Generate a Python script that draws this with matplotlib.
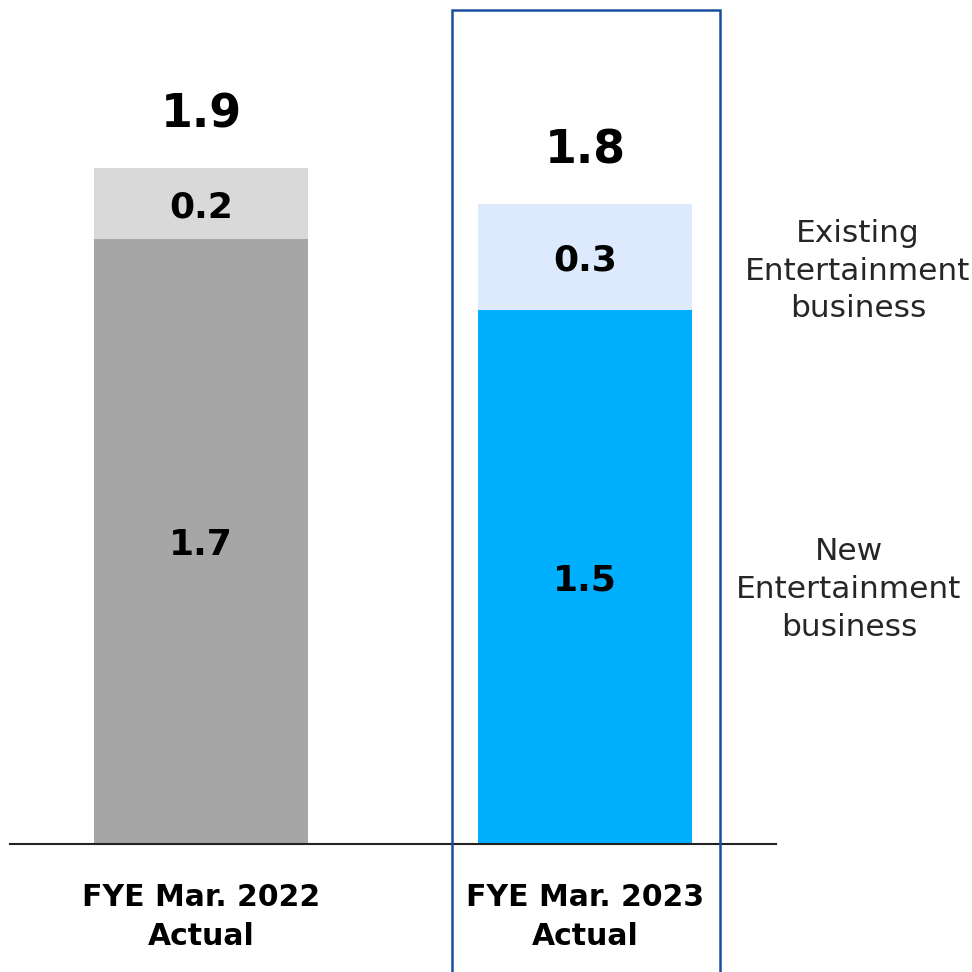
import matplotlib.pyplot as plt
from matplotlib.patches import Rectangle

# Values (trillion yen style units as shown on the chart)
categories = ["FYE Mar. 2022\nActual", "FYE Mar. 2023\nActual"]
new_ent = [1.7, 1.5]
existing_ent = [0.2, 0.3]
totals = [1.9, 1.8]
series_names = ["New\nEntertainment\nbusiness", "Existing\nEntertainment\nbusiness"]

bottom_colors = ["#A6A6A6", "#00B0FF"]
top_colors = ["#D9D9D9", "#DDE9FC"]
frame_color = "#1B4F9C"

fig = plt.figure(figsize=(9.72, 9.72), dpi=100)
ax = fig.add_axes([0, 0, 1, 1])
ax.set_xlim(-0.5234, 2.0078)
ax.set_ylim(-0.3598, 2.372)
ax.axis("off")

x = range(len(categories))
width = 0.557
ax.bar(x, new_ent, width=width, color=bottom_colors, zorder=2)
ax.bar(x, existing_ent, width=width, bottom=new_ent, color=top_colors, zorder=2)

font = "DejaVu Sans"
for i in x:
    ax.text(i, new_ent[i] / 2 - 0.01, f"{new_ent[i]:.1f}", ha="center", va="center",
            fontsize=26, fontweight="bold", family=font, zorder=3)
    ax.text(i, new_ent[i] + existing_ent[i] / 2 - 0.01, f"{existing_ent[i]:.1f}",
            ha="center", va="center", fontsize=26, fontweight="bold",
            family=font, zorder=3)
    ax.text(i, totals[i] + 0.148, f"{totals[i]:.1f}", ha="center", va="center",
            fontsize=33, fontweight="bold", family=font, zorder=3)
    ax.text(i, -0.205, categories[i], ha="center", va="center", fontsize=21.5,
            fontweight="bold", family=font, linespacing=1.45)

# baseline
ax.plot([-0.497, 1.497], [0, 0], color="#222222", lw=1.5, zorder=4, clip_on=False)

# highlight frame around the current year
ax.add_patch(Rectangle((0.654, -0.5), 1.352 - 0.654, 2.344 + 0.5, fill=False,
                       edgecolor=frame_color, lw=1.8, zorder=5))

# series labels on the right
ax.text(1.6875, 0.715, series_names[0], ha="center", va="center", fontsize=22.5,
        color="#262626", family=font, linespacing=1.38)
ax.text(1.711, 1.61, series_names[1], ha="center", va="center", fontsize=22.5,
        color="#262626", family=font, linespacing=1.38)

fig.savefig("out.png", dpi=100)
